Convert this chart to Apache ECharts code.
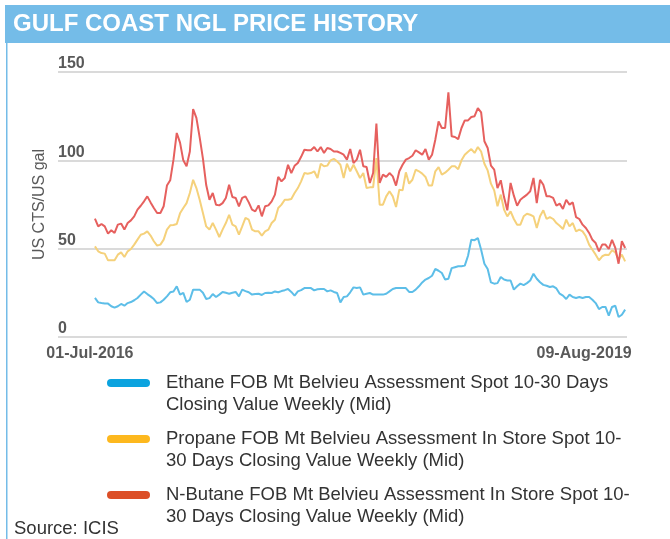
<!DOCTYPE html>
<html><head><meta charset="utf-8">
<script src="https://cdn.jsdelivr.net/npm/echarts@6/dist/echarts.min.js"></script>
<style>html,body{margin:0;padding:0;background:#fff}#c{width:670px;height:539px}</style>
</head><body><div id="c"></div>
<script>
// ---- data ----
const startDate = [2016, 6, 1];   // 01-Jul-2016, weekly closing values
const weekCount = 163;           // through 09-Aug-2019
const yTicks = [0, 50, 100, 150];
const seriesNames = [
  'Ethane FOB Mt Belvieu Assessment Spot 10-30 Days\nClosing Value Weekly (Mid)',
  'Propane FOB Mt Belvieu Assessment In Store Spot 10-\n30 Days Closing Value Weekly (Mid)',
  'N-Butane FOB Mt Belvieu Assessment In Store Spot 10-\n30 Days Closing Value Weekly (Mid)'
];
const ethane = [
22.1,19.6,19.2,18.9,18.9,17.4,16.6,17.4,18.7,17.7,19.2,19.8,20.8,22.1,24,25.8,24.3,23,21.5,19.2,
19.6,21.1,23,25.3,25.8,28.7,24,25,19.8,21.1,26.8,26.8,26.8,25,21.5,22,24.3,22.6,24,25.5,
25,24.5,25,25.5,23,26.8,26,25.3,24,24.3,24.5,23.8,24.9,25,24.9,25.8,25.3,26,26.5,27.2,
25.5,23.4,25.8,26.5,27.7,27.7,27.7,26.4,27,27.2,27.2,25.8,26.4,25.5,24.9,19.6,22.6,23,25.3,28.1,
27.7,28.1,24,24.5,24.9,24,24,24,24,24.5,25.8,27.2,27.7,27.7,27.7,27.7,25.5,25.5,26.8,28.7,
30.9,32.5,33.4,34.7,38.5,37.5,36.2,32.5,33,39,39.5,40,40,40.4,46,55.1,54.8,56,49.4,41.5,
38.5,30.9,30.2,30.5,34,32.5,32,32,26.8,28.7,30.2,29.4,30.5,32,35.8,33,31,29.5,29,28.3,
28.7,27.5,24.5,23.4,21.5,24,22.6,22.1,22.6,22.1,22.6,22.6,21.1,19.2,15.8,17,17,12.1,17,17.7,
11.3,12.6,15.5
];
const propane = [
51.3,48.5,47.5,47.2,43.4,43.4,43.4,46.6,47.9,45.3,48.5,49.8,52.3,55.1,57.9,58.5,59.8,57.4,54.2,51.7,
52.3,55.1,60.8,63.2,63.4,64,70,73,75.8,81.5,89,84.3,77.7,70.2,62.6,60.8,64.5,60.8,56.6,60.8,
64.5,69.2,63.6,62.6,57.9,62.6,67.4,66.4,60.8,59.8,59.8,57.4,59.8,60.8,64.5,66.4,73,74.9,77.7,77.7,
78.1,81.5,84.3,88.1,92.8,92.4,92.8,93.8,90,98.1,96.6,97,100,100.8,99.4,97.5,90,98.1,93.8,97.5,
93.8,90,92.8,84.3,84.7,84.7,101.3,74.9,74.9,79.6,82.5,79.6,73.6,83.4,83,93.2,86.8,89,94.7,93.8,
92.5,90.6,85.7,85.7,93.8,96.2,91.9,93,94.7,96.6,96.6,95,100,103.2,104.9,106.4,104.2,107.5,105,98.1,
94.3,86.8,83,74,80.6,72.1,68.3,71.1,66.8,63.6,63.6,68.3,69.8,69.2,68.3,61.7,68.3,71.7,66.8,67.9,
66.8,64.5,63,61.1,66.4,62.6,64.5,59.8,60.8,59.8,57,52.3,49.4,46.6,43.4,45.7,46.6,46.4,49.1,47.9,
43.8,46.6,42.8
];
const butane = [
67,62.6,64,62.6,58.5,60.4,58.9,63.6,64.2,60.8,64.5,66,68.3,72.1,74.3,76.8,79.6,76.2,73,70.2,
70.2,74,85.7,88.7,100.4,115.5,110,100,96.6,105,129,124,113,101,86,77.7,81.5,74.9,74.5,75.8,
78.7,86.2,79.2,78.7,74,78.7,79.6,76.2,72.1,71.1,74.5,68.3,74,74.5,76.8,80.6,90.6,88.1,90,97.5,
92.8,96.9,98.5,102,106,105.7,105.7,107.5,105,107.5,104.2,107,106.4,105,105,104.2,103.2,100.4,106.4,98.5,
100.4,106,96.6,96.2,87.2,92.8,120.8,87.2,91.9,90.6,92.8,90.9,85.7,93.8,97.5,100.4,101.3,102.6,105.7,104.5,
103.2,106.4,100.4,103.2,111.7,122,118.3,118.3,138.5,113.6,113.2,112,118.3,122.6,122.6,124.5,125,129.6,127.2,110.8,
107,97,94.7,84.3,88.7,79.2,71.7,87.2,80,74.3,77.7,79.2,80.6,82.5,90,75.8,89,86.2,79.6,79.6,
78.7,74.3,75.5,72.5,77.7,74.9,76.2,67.9,66.8,63.6,61.7,58.9,55,53.2,48.5,52.3,52.3,49.8,55,50.4,
41.5,54.2,50.4
];
const legendColors = ['#0BA3DF', '#FDB81E', '#DC4F27'];
const lineColors = ['#5DBEE8', '#F5D17B', '#E6605E'];

// ---- build ----
const DAY = 86400000;
const t0 = Date.UTC(startDate[0], startDate[1], startDate[2]);
const dates = Array.from({length: weekCount}, (_, i) => t0 + i * 7 * DAY);
const MONTHS = ['Jan','Feb','Mar','Apr','May','Jun','Jul','Aug','Sep','Oct','Nov','Dec'];
function fmt(t) {
  const d = new Date(t);
  return String(d.getUTCDate()).padStart(2, '0') + '-' + MONTHS[d.getUTCMonth()] + '-' + d.getUTCFullYear();
}
const FONT = '"Liberation Sans", Arial, Helvetica, sans-serif';
const values = [ethane, propane, butane];

const chart = echarts.init(document.getElementById('c'), null, {renderer: 'canvas'});
chart.setOption({
  animation: false,
  textStyle: {fontFamily: FONT},
  title: {
    text: 'GULF COAST NGL PRICE HISTORY', left: 13, top: 12, padding: 0,
    textStyle: {color: '#fff', fontSize: 24, fontWeight: 'bold', fontFamily: FONT}
  },
  graphic: [
    {type: 'rect', left: 5, top: 5, shape: {width: 665, height: 38}, style: {fill: '#74BCE8'}, z: -1},
    {type: 'rect', left: 6, top: 43, shape: {width: 1.5, height: 496}, style: {fill: '#74BCE8'}, z: -1},
    {type: 'text', left: 14, top: 519, style: {text: 'Source: ICIS', fill: '#333', font: '18.5px ' + FONT}}
  ],
  grid: {left: 58, right: 43, top: 72, bottom: 202, containLabel: false},
  legend: {
    orient: 'vertical', left: 107, top: 350, padding: 0, itemGap: -10,
    itemWidth: 43, itemHeight: 8,
    icon: 'path://M4,0 L39,0 A4,4 0 0 1 39,8 L4,8 A4,4 0 0 1 4,0 Z',
    selectedMode: false,
    formatter: name => '\n' + name,
    textStyle: {fontSize: 18.5, color: '#333', lineHeight: 22, padding: [0, 0, 0, 11], fontFamily: FONT},
    data: seriesNames.map((n, i) => ({name: n, itemStyle: {color: legendColors[i]}}))
  },
  xAxis: {
    type: 'value',
    min: dates[0] - 79 * DAY,
    max: dates[weekCount - 1] + 4 * DAY,
    axisLine: {show: false}, axisTick: {show: false}, splitLine: {show: false},
    axisLabel: {
      customValues: [dates[0], dates[weekCount - 1]],
      margin: 9,
      formatter: v => (v === dates[0] ? '{a|' : '{b|') + fmt(v) + '}',
      rich: {
        a: {fontSize: 16, fontWeight: 'bold', color: '#595959', fontFamily: FONT, padding: [0, 10, 0, 0]},
        b: {fontSize: 16, fontWeight: 'bold', color: '#595959', fontFamily: FONT, padding: [0, 82, 0, 0]}
      }
    }
  },
  yAxis: {
    type: 'value', min: yTicks[0], max: yTicks[yTicks.length - 1], interval: yTicks[1] - yTicks[0],
    name: 'US CTS/US gal', nameLocation: 'middle', nameGap: 8,
    nameTextStyle: {fontSize: 16, color: '#595959', fontFamily: FONT},
    axisLine: {show: false}, axisTick: {show: false},
    axisLabel: {inside: true, margin: 0, verticalAlign: 'bottom', padding: 0,
      fontSize: 16, fontWeight: 'bold', color: '#595959', fontFamily: FONT},
    splitLine: {lineStyle: {color: '#DADADA', width: 2}}
  },
  series: values.map((vals, k) => ({
    name: seriesNames[k], type: 'line', showSymbol: false, symbol: 'none',
    itemStyle: {color: legendColors[k]},
    lineStyle: {color: lineColors[k], width: 2},
    data: vals.map((v, i) => [dates[i], v])
  }))
});
</script></body></html>
